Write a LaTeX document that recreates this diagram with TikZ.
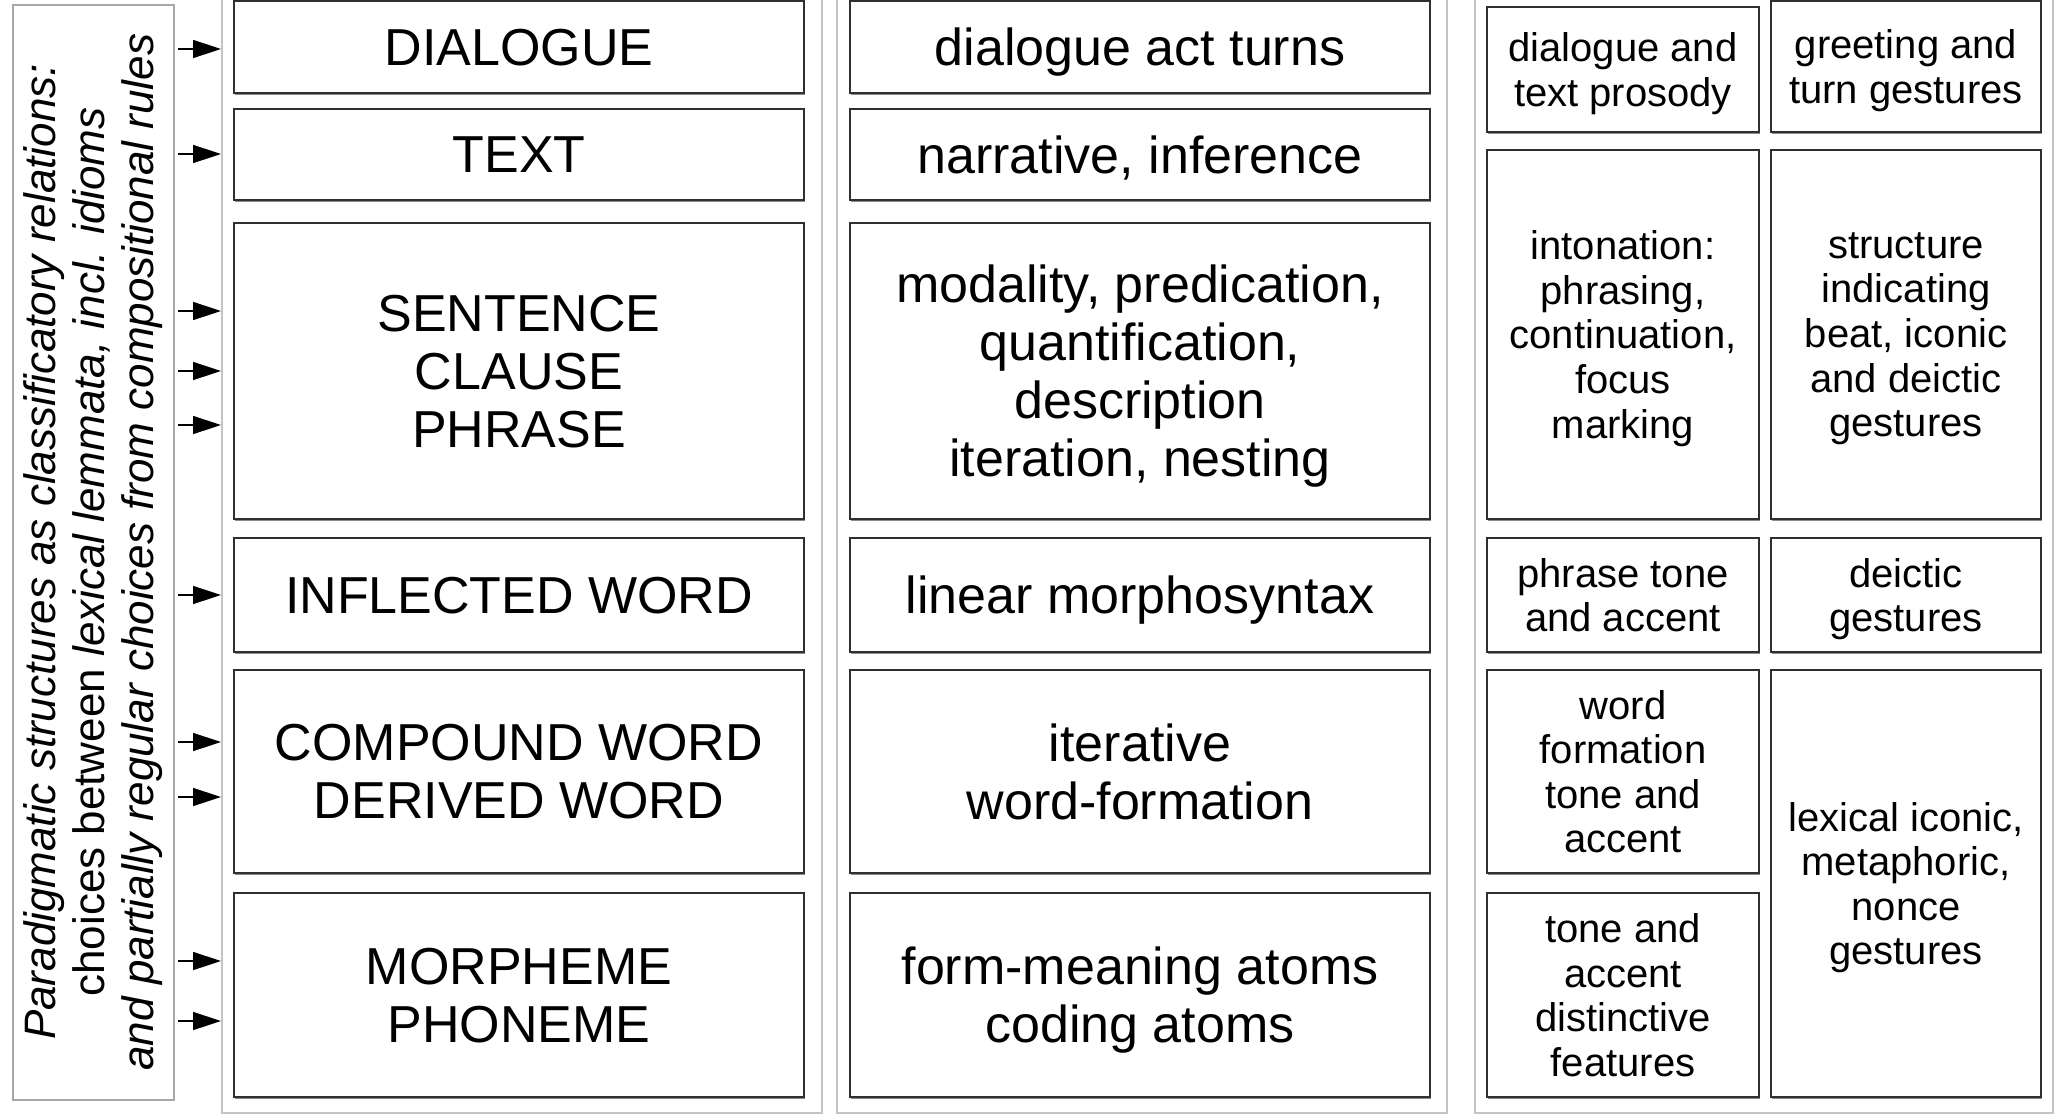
\documentclass[tikz,border=0pt]{standalone}
\usepackage{fontspec}
\setmainfont{Liberation Sans}
\usetikzlibrary{arrows.meta,shadows}
\definecolor{cellline}{HTML}{303030}
\definecolor{frameline}{HTML}{C4C4C4}
\definecolor{lblline}{HTML}{A8A8A8}
\newcommand\bigfont{\fontsize{52}{58}\selectfont}
\newcommand\smallfont{\fontsize{40}{44.6}\selectfont}
\newcommand\lblfont{\fontsize{44}{49}\selectfont}
% rectangular node given its corners: name, x1, y1, x2, y2, style, text
\newcommand\cellnode[7]{%
  \node[#6, minimum width={(#4-#2)*1pt}, minimum height={(#5-#3)*1pt}]
    (#1) at ({(#2+#4)/2},{(#3+#5)/2}) {#7};}
\begin{document}
\begin{tikzpicture}[x=1pt,y=-1pt,
  colframe/.style={draw=frameline, line width=2pt, fill=white, inner sep=0pt},
  lblframe/.style={draw=lblline, line width=1.5pt, fill=white, inner sep=0pt},
  cellbox/.style={draw=cellline, line width=2pt, fill=white, inner sep=0pt,
    align=center, text=black, text depth=0pt,
    drop shadow={shadow xshift=0.8pt, shadow yshift=-1.8pt, fill=black, opacity=0.45}},
  bigcell/.style={cellbox, font=\bigfont},
  smallcell/.style={cellbox, font=\smallfont},
  pointer/.style={draw=black, line width=1.5pt, -{Triangle[length=28pt,width=18pt]}}
]
\useasboundingbox (0,0) rectangle (2056,1116);
\fill[white] (0,0) rectangle (2056,1116);

% column frames and the label frame
\cellnode{frameA}{222}{-20}{822}{1113}{colframe}{}
\cellnode{frameB}{837}{-20}{1447}{1113}{colframe}{}
\cellnode{frameC}{1475}{-20}{2053}{1113}{colframe}{}
\cellnode{lblbox}{13}{5}{174}{1100}{lblframe}{}
\node[rotate=90, align=center, font=\lblfont, inner sep=0pt] (lbltxt) at (93.5,552)
  {\textit{Paradigmatic structures as classificatory relations:}\\
   choices between \textit{lexical lemmata, incl. idioms}\\
   \textit{and partially regular choices from compositional rules}};

% units
\cellnode{dlg}{234}{1}{804}{93}{bigcell}{DIALOGUE}
\cellnode{txt}{234}{109}{804}{200}{bigcell}{TEXT}
\cellnode{snt}{234}{223}{804}{519}{bigcell}{SENTENCE\\CLAUSE\\PHRASE}
\cellnode{inf}{234}{538}{804}{652}{bigcell}{INFLECTED WORD}
\cellnode{cmp}{234}{670}{804}{873}{bigcell}{COMPOUND WORD\\DERIVED WORD}
\cellnode{mor}{234}{893}{804}{1097}{bigcell}{MORPHEME\\PHONEME}

% functions
\cellnode{dlgF}{850}{1}{1430}{93}{bigcell}{dialogue act turns}
\cellnode{txtF}{850}{109}{1430}{200}{bigcell}{narrative, inference}
\cellnode{sntF}{850}{223}{1430}{519}{bigcell}{modality, predication,\\quantification,\\description\\iteration, nesting}
\cellnode{infF}{850}{538}{1430}{652}{bigcell}{linear morphosyntax}
\cellnode{cmpF}{850}{670}{1430}{873}{bigcell}{iterative\\word-formation}
\cellnode{morF}{850}{893}{1430}{1097}{bigcell}{form-meaning atoms\\coding atoms}

% prosody
\cellnode{pr1}{1487}{7}{1759}{132}{smallcell}{dialogue and\\text prosody}
\cellnode{pr2}{1487}{150}{1759}{519}{smallcell}{intonation:\\phrasing,\\continuation,\\focus\\marking}
\cellnode{pr3}{1487}{538}{1759}{652}{smallcell}{phrase tone\\and accent}
\cellnode{pr4}{1487}{670}{1759}{873}{smallcell}{word\\formation\\tone and\\accent}
\cellnode{pr5}{1487}{893}{1759}{1097}{smallcell}{tone and\\accent\\distinctive\\features}

% gesture
\cellnode{ge1}{1771}{1}{2041}{132}{smallcell}{greeting and\\turn gestures}
\cellnode{ge2}{1771}{150}{2041}{519}{smallcell}{structure\\indicating\\beat, iconic\\and deictic\\gestures}
\cellnode{ge3}{1771}{538}{2041}{652}{smallcell}{deictic\\gestures}
\cellnode{ge4}{1771}{670}{2041}{1097}{smallcell}{lexical iconic,\\metaphoric,\\nonce\\gestures}

% pointers from the label to each level
\foreach \yy [count=\i] in {49,154,311,371,425,595,742,797,961,1021} {
  \coordinate (src\i) at (178,\yy);
  \draw[pointer] (src\i) -- (src\i -| frameA.west);
}
\end{tikzpicture}
\end{document}
